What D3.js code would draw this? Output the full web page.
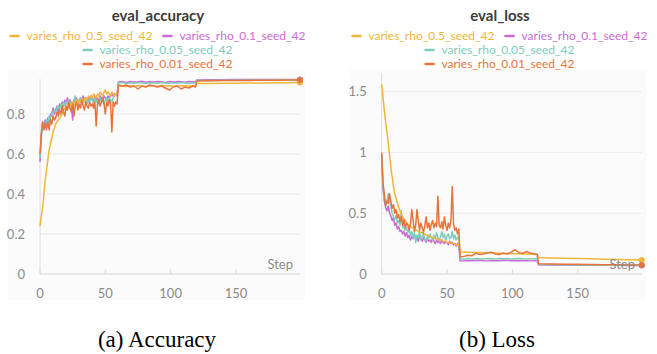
<!DOCTYPE html>
<html><head><meta charset="utf-8">
<script src="https://cdn.jsdelivr.net/npm/d3@7"></script>
<style>body{margin:0;background:#fff;}svg{display:block;}</style>
</head><body><svg id="c" width="657" height="354"></svg>
<script>
const steps = [0,1,2,3,4,5,6,7,8,9,10,11,12,13,14,15,16,17,18,19,20,21,22,23,24,25,26,27,28,29,30,31,32,33,34,35,36,37,38,39,40,41,42,43,44,45,46,47,48,49,50,51,52,53,54,55,56,57,58,59,
  60,63,66,69,72,75,78,81,84,87,90,93,96,99,102,105,108,111,114,117,119,120,130,140,150,160,170,180,190,199];

const seriesNames = ["varies_rho_0.5_seed_42","varies_rho_0.1_seed_42","varies_rho_0.05_seed_42","varies_rho_0.01_seed_42"];
const seriesColors = ["#f0b63a","#c96bd3","#80ccbb","#e8733c"];

// eval_accuracy
const accRho05 = [0.24,0.29,0.33,0.40,0.47,0.52,0.57,0.62,0.65,0.68,0.71,0.73,0.75,0.76,0.77,0.78,0.79,0.80,0.82,0.83,0.82,0.84,0.83,0.85,0.84,0.86,0.84,0.86,0.87,0.85,0.87,0.86,0.88,0.86,0.87,0.88,0.87,0.89,0.88,0.89,0.88,0.90,0.89,0.88,0.90,0.89,0.91,0.90,0.89,0.91,0.92,0.90,0.91,0.90,0.89,0.91,0.90,0.89,0.90,0.90,
  0.938,0.940,0.937,0.941,0.939,0.942,0.940,0.938,0.941,0.940,0.939,0.942,0.940,0.941,0.939,0.940,0.942,0.941,0.940,0.941,0.941,0.952,0.953,0.954,0.954,0.955,0.955,0.956,0.956,0.957];
const accRho01 = [0.56,0.70,0.76,0.74,0.77,0.72,0.78,0.76,0.80,0.79,0.83,0.80,0.82,0.84,0.81,0.85,0.83,0.86,0.84,0.87,0.85,0.88,0.86,0.87,0.84,0.77,0.87,0.86,0.88,0.85,0.87,0.88,0.86,0.89,0.87,0.88,0.86,0.88,0.87,0.89,0.88,0.86,0.89,0.87,0.88,0.86,0.89,0.88,0.87,0.89,0.88,0.87,0.89,0.88,0.89,0.90,0.89,0.90,0.90,0.90,
  0.960,0.962,0.958,0.963,0.960,0.961,0.964,0.959,0.962,0.960,0.963,0.961,0.958,0.962,0.960,0.963,0.961,0.959,0.962,0.961,0.962,0.970,0.971,0.971,0.972,0.972,0.972,0.973,0.972,0.972];
const accRho005 = [0.58,0.68,0.74,0.75,0.73,0.77,0.75,0.79,0.77,0.81,0.80,0.82,0.81,0.83,0.84,0.82,0.85,0.84,0.86,0.84,0.86,0.85,0.87,0.85,0.86,0.84,0.87,0.89,0.85,0.87,0.86,0.88,0.85,0.87,0.86,0.88,0.85,0.87,0.86,0.88,0.87,0.85,0.88,0.86,0.87,0.85,0.88,0.86,0.87,0.85,0.87,0.88,0.86,0.88,0.87,0.86,0.88,0.89,0.90,0.89,
  0.955,0.957,0.953,0.956,0.954,0.957,0.955,0.953,0.956,0.955,0.954,0.957,0.955,0.952,0.956,0.954,0.957,0.955,0.953,0.956,0.955,0.968,0.968,0.969,0.969,0.970,0.970,0.970,0.971,0.971];
const accRho001 = [0.60,0.70,0.76,0.72,0.75,0.73,0.76,0.72,0.77,0.75,0.79,0.77,0.78,0.81,0.79,0.82,0.80,0.84,0.81,0.79,0.84,0.82,0.86,0.83,0.81,0.85,0.79,0.84,0.86,0.82,0.85,0.83,0.87,0.84,0.82,0.86,0.84,0.83,0.86,0.84,0.85,0.83,0.86,0.74,0.85,0.87,0.84,0.86,0.88,0.85,0.80,0.86,0.84,0.87,0.85,0.71,0.86,0.84,0.86,0.85,
  0.945,0.940,0.945,0.935,0.940,0.925,0.940,0.935,0.945,0.940,0.935,0.940,0.930,0.920,0.935,0.940,0.925,0.935,0.930,0.940,0.935,0.965,0.966,0.967,0.967,0.968,0.969,0.969,0.970,0.970];

// eval_loss
const lossRho05 = [1.56,1.45,1.35,1.25,1.17,1.08,0.98,0.88,0.80,0.72,0.66,0.62,0.58,0.55,0.52,0.49,0.47,0.45,0.44,0.42,0.41,0.40,0.39,0.38,0.38,0.37,0.36,0.36,0.35,0.35,0.34,0.34,0.33,0.33,0.32,0.32,0.31,0.31,0.30,0.30,0.30,0.29,0.29,0.29,0.28,0.28,0.28,0.27,0.27,0.27,0.26,0.26,0.26,0.26,0.25,0.25,0.25,0.24,0.24,0.24,
  0.182,0.180,0.179,0.178,0.177,0.176,0.175,0.174,0.173,0.172,0.171,0.170,0.169,0.168,0.167,0.166,0.165,0.164,0.163,0.162,0.162,0.135,0.132,0.129,0.127,0.125,0.122,0.120,0.118,0.116];
const lossRho01 = [0.95,0.70,0.60,0.55,0.52,0.56,0.50,0.48,0.44,0.46,0.40,0.42,0.37,0.39,0.35,0.36,0.33,0.35,0.31,0.34,0.30,0.32,0.28,0.31,0.29,0.33,0.28,0.30,0.27,0.31,0.29,0.27,0.30,0.28,0.26,0.29,0.27,0.28,0.26,0.29,0.27,0.25,0.28,0.26,0.27,0.25,0.28,0.26,0.25,0.27,0.26,0.24,0.27,0.25,0.26,0.24,0.25,0.23,0.25,0.24,
  0.110,0.108,0.112,0.109,0.111,0.113,0.110,0.108,0.112,0.110,0.109,0.113,0.111,0.110,0.112,0.109,0.111,0.110,0.108,0.110,0.110,0.076,0.075,0.074,0.073,0.072,0.072,0.071,0.070,0.070];
const lossRho005 = [0.98,0.72,0.62,0.58,0.60,0.66,0.62,0.55,0.50,0.47,0.45,0.48,0.42,0.44,0.40,0.52,0.38,0.40,0.36,0.38,0.34,0.37,0.32,0.35,0.30,0.34,0.26,0.32,0.30,0.35,0.28,0.31,0.33,0.29,0.27,0.31,0.29,0.33,0.30,0.28,0.32,0.29,0.34,0.30,0.27,0.31,0.35,0.30,0.33,0.28,0.31,0.33,0.29,0.30,0.35,0.29,0.32,0.28,0.30,0.31,
  0.125,0.122,0.127,0.124,0.128,0.125,0.123,0.127,0.126,0.124,0.128,0.125,0.127,0.124,0.126,0.128,0.125,0.123,0.126,0.125,0.125,0.078,0.077,0.076,0.075,0.074,0.073,0.072,0.071,0.071];
const lossRho001 = [1.00,0.75,0.66,0.56,0.60,0.58,0.66,0.60,0.54,0.57,0.50,0.53,0.46,0.49,0.43,0.47,0.40,0.45,0.38,0.42,0.40,0.36,0.41,0.53,0.45,0.35,0.40,0.53,0.44,0.36,0.42,0.38,0.34,0.40,0.47,0.38,0.42,0.36,0.41,0.44,0.38,0.42,0.39,0.64,0.40,0.38,0.43,0.37,0.47,0.40,0.36,0.42,0.38,0.44,0.72,0.41,0.36,0.38,0.33,0.37,
  0.140,0.145,0.155,0.150,0.170,0.160,0.165,0.175,0.180,0.165,0.160,0.170,0.165,0.180,0.200,0.175,0.170,0.185,0.170,0.165,0.160,0.085,0.082,0.080,0.080,0.078,0.077,0.076,0.075,0.075];

const accTicks = [0,0.2,0.4,0.6,0.8];
const lossTicks = [0,0.5,1,1.5];
const xTicks = [0,50,100,150];

const svg = d3.select("#c");
const font = "Lato, 'Open Sans', sans-serif";

function panel(o){
  const g = svg.append("g");
  g.append("rect").attr("x",o.bg[0]).attr("y",70).attr("width",o.bg[1]-o.bg[0]).attr("height",230).attr("fill","#fbfbfb");
  const x = d3.scaleLinear().domain([0,199]).range(o.xr);
  const y = d3.scaleLinear().domain([0,o.ymax]).range([274,o.ytop]);
  g.append("text").attr("x",o.cx).attr("y",21).attr("text-anchor","middle")
    .attr("font-family",font).attr("font-size",15).attr("font-weight",700).attr("fill","#3c3c3c").text(o.title);
  const rows = [[0,1],[2],[3]];
  rows.forEach((r,ri)=>{
    const lg = g.append("g");
    let cur = 0;
    r.forEach(i=>{
      const it = lg.append("g").attr("transform",`translate(${cur},0)`);
      it.append("line").attr("x1",0).attr("x2",8).attr("y1",0).attr("y2",0).attr("stroke",seriesColors[i]).attr("stroke-width",2.5).attr("stroke-linecap","round");
      const t = it.append("text").attr("x",16).attr("y",4).attr("font-family",font).attr("font-size",12).attr("fill",seriesColors[i]).text(seriesNames[i]);
      cur += 16 + t.node().getComputedTextLength() + 11;
    });
    const w = cur - 11;
    lg.attr("transform",`translate(${o.cx - w/2},${36 + ri*14})`);
  });
  g.append("g").selectAll("line").data(o.yTicks).join("line")
    .attr("x1",o.xr[0]).attr("x2",o.xr[1]).attr("y1",d=>y(d)).attr("y2",d=>y(d))
    .attr("stroke","#ebebeb").attr("stroke-width",1);
  g.append("line").attr("x1",o.xr[0]).attr("x2",o.xr[0]).attr("y1",o.axisTop).attr("y2",274).attr("stroke","#dcdcdc");
  g.append("g").selectAll("text").data(o.yTicks).join("text")
    .attr("x",o.xr[0]-15).attr("y",d=>y(d)+4.5).attr("text-anchor","end")
    .attr("font-family",font).attr("font-size",13).attr("fill","#8a8a8a").text(d=>d3.format("~g")(d));
  g.append("g").selectAll("line").data(xTicks).join("line")
    .attr("x1",d=>x(d)).attr("x2",d=>x(d)).attr("y1",269).attr("y2",274).attr("stroke","#dcdcdc");
  g.append("line").attr("x1",o.xr[0]).attr("x2",o.xr[1]).attr("y1",274).attr("y2",274).attr("stroke","#dcdcdc");
  g.append("g").selectAll("text").data(xTicks).join("text")
    .attr("x",d=>x(d)).attr("y",298).attr("text-anchor","middle")
    .attr("font-family",font).attr("font-size",13).attr("fill","#8a8a8a").text(d=>d);
  const line = d3.line().x((d,i)=>x(steps[i])).y(d=>y(d));
  const order = [1,2,0,3];
  order.forEach(i=>{
    g.append("path").attr("d",line(o.data[i])).attr("fill","none").attr("stroke",seriesColors[i]).attr("stroke-width",1.5).attr("stroke-linejoin","round");
  });
  order.forEach(i=>{
    const v = o.data[i];
    g.append("circle").attr("cx",x(steps[steps.length-1])).attr("cy",y(v[v.length-1])).attr("r",3).attr("fill",seriesColors[i]);
  });
  g.append("text").attr("x",o.stepX).attr("y",269).attr("text-anchor","end")
    .attr("font-family",font).attr("font-size",13).attr("fill","#8a8a8a").text("Step");
  g.append("text").attr("x",o.capX).attr("y",347).attr("text-anchor","middle")
    .attr("font-family","'Liberation Serif', 'Times New Roman', serif").attr("font-size",23).attr("fill","#000").text(o.caption);
}

panel({title:"eval_accuracy",cx:158,bg:[8,305],xr:[40,300],ymax:1,ytop:74,axisTop:79,yTicks:accTicks,
  data:[accRho05,accRho01,accRho005,accRho001],stepX:293,capX:157,caption:"(a) Accuracy"});
panel({title:"eval_loss",cx:500,bg:[349,646],xr:[381.7,641.7],ymax:1.5,ytop:91.7,axisTop:73,yTicks:lossTicks,
  data:[lossRho05,lossRho01,lossRho005,lossRho001],stepX:635,capX:497,caption:"(b) Loss"});
</script></body></html>
